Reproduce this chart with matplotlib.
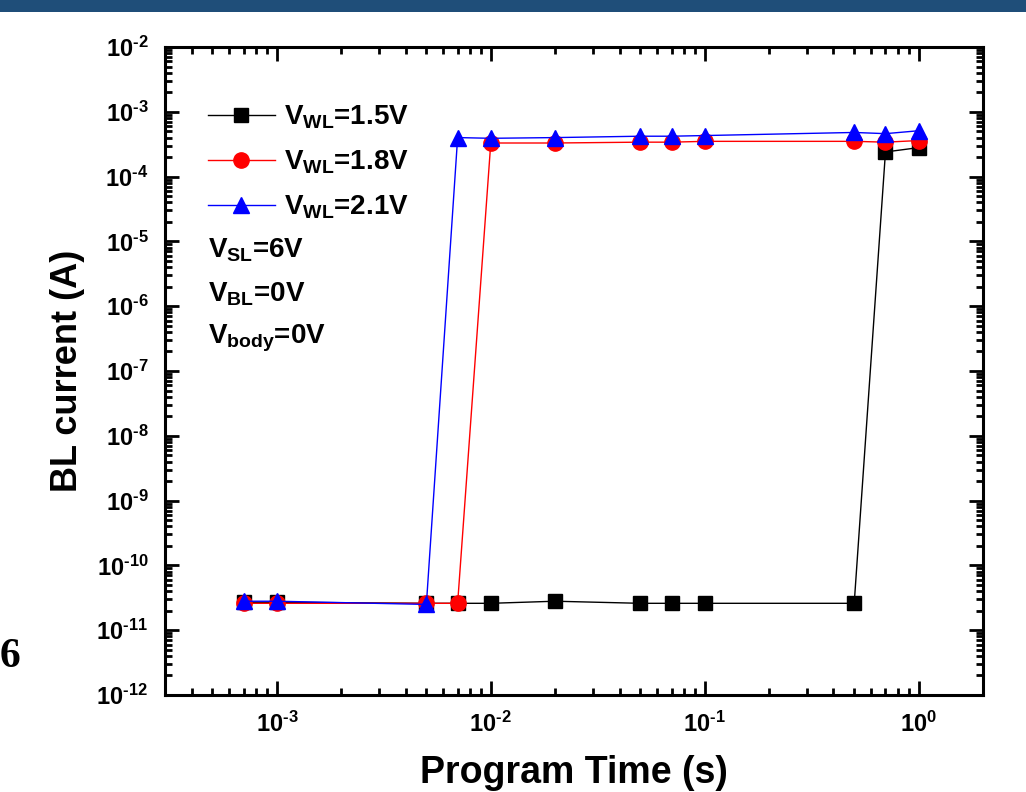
import matplotlib
matplotlib.use("Agg")
import matplotlib.pyplot as plt
from matplotlib.patches import Rectangle
from matplotlib.ticker import LogLocator, FuncFormatter, NullFormatter
import numpy as np

plt.rcParams['font.family'] = ['Liberation Sans', 'DejaVu Sans']
plt.rcParams['font.weight'] = 'bold'
plt.rcParams['mathtext.fontset'] = 'custom'
plt.rcParams['mathtext.rm'] = 'Liberation Sans:bold'
plt.rcParams['mathtext.bf'] = 'Liberation Sans:bold'
plt.rcParams['mathtext.it'] = 'Liberation Sans:bold'
plt.rcParams['mathtext.default'] = 'rm'

# ---- data ----
time_15 = [7e-4, 1e-3, 5e-3, 7e-3, 1e-2, 2e-2, 5e-2, 7e-2, 1e-1, 5e-1, 7e-1, 1.0]
curr_15 = [2.7e-11, 2.7e-11, 2.6e-11, 2.6e-11, 2.6e-11, 2.8e-11, 2.6e-11, 2.6e-11, 2.6e-11, 2.6e-11, 2.4e-4, 2.8e-4]

time_18 = [7e-4, 1e-3, 5e-3, 7e-3, 1e-2, 2e-2, 5e-2, 7e-2, 1e-1, 5e-1, 7e-1, 1.0]
curr_18 = [2.6e-11, 2.6e-11, 2.6e-11, 2.6e-11, 3.3e-4, 3.3e-4, 3.4e-4, 3.4e-4, 3.5e-4, 3.5e-4, 3.4e-4, 3.6e-4]

time_21 = [7e-4, 1e-3, 5e-3, 7e-3, 1e-2, 2e-2, 5e-2, 7e-2, 1e-1, 5e-1, 7e-1, 1.0]
curr_21 = [2.8e-11, 2.8e-11, 2.5e-11, 4.0e-4, 3.9e-4, 4.0e-4, 4.2e-4, 4.2e-4, 4.3e-4, 4.8e-4, 4.6e-4, 5.1e-4]

series_labels = [r'V$_{\mathregular{WL}}$=1.5V', r'V$_{\mathregular{WL}}$=1.8V', r'V$_{\mathregular{WL}}$=2.1V']
bias_labels = [r'V$_{\mathregular{SL}}$=6V', r'V$_{\mathregular{BL}}$=0V', r'V$_{\mathregular{body}}$=0V']
x_title = 'Program Time (s)'
y_title = 'BL current (A)'

W, H = 1026, 792
fig = plt.figure(figsize=(W / 100, H / 100), dpi=100)
fig.patch.set_facecolor('white')

# slide header bar
fig.patches.append(Rectangle((0, 1 - 12 / H), 1, 12 / H, transform=fig.transFigure,
                             facecolor='#1f4e79', edgecolor='none', zorder=0))
fig.text(0.0, 1 - 657 / H, '6', family='Liberation Serif', weight='bold',
         fontsize=30, va='center', ha='left')

ax = fig.add_axes([165 / W, 1 - 695 / H, (983 - 165) / W, (695 - 47) / H])

ax.plot(time_15, curr_15, color='black', lw=1.0, marker='s', ms=10, label=series_labels[0], zorder=3)
ax.plot(time_18, curr_18, color='red', lw=1.0, marker='o', ms=11, label=series_labels[1], zorder=4)
ax.plot(time_21, curr_21, color='blue', lw=1.0, marker='^', ms=12, label=series_labels[2], zorder=5)

ax.set_xscale('log')
ax.set_yscale('log')
ax.set_xlim(3e-4, 2.0)
ax.set_ylim(1e-12, 1e-2)

ax.xaxis.set_major_locator(LogLocator(base=10, numticks=20))
ax.xaxis.set_minor_locator(LogLocator(base=10, subs=np.arange(2, 10), numticks=50))
ax.yaxis.set_major_locator(LogLocator(base=10, numticks=20))
ax.yaxis.set_minor_locator(LogLocator(base=10, subs=np.arange(2, 10), numticks=50))

def fmt(v, pos):
    e = int(round(np.log10(v)))
    s = str(e).replace('-', '\u2010')
    return r'$\mathregular{10^{%s}}$' % s

ax.xaxis.set_major_formatter(FuncFormatter(fmt))
ax.yaxis.set_major_formatter(FuncFormatter(fmt))
ax.xaxis.set_minor_formatter(NullFormatter())
ax.yaxis.set_minor_formatter(NullFormatter())

ax.tick_params(which='both', direction='in', top=True, right=True, width=2)
ax.tick_params(which='major', length=10, labelsize=17)
ax.tick_params(axis='x', which='major', pad=12)
ax.tick_params(axis='y', which='major', pad=12)
ax.tick_params(which='minor', length=5)
for s in ax.spines.values():
    s.set_linewidth(2.2)

ax.set_xlabel(x_title, fontsize=27, weight='bold', labelpad=13)
ax.set_ylabel(y_title, fontsize=26, weight='bold', labelpad=8)

leg = ax.legend(loc='upper left', bbox_to_anchor=((208 - 165) / (983 - 165), 1 - (104 - 47) / (695 - 47)),
                frameon=False, fontsize=20, handlelength=2.4, handletextpad=0.35,
                labelspacing=0.62, borderaxespad=0, borderpad=0)

for i, t in enumerate(bias_labels):
    y = 250 + i * 44
    ax.text((208 - 165) / (983 - 165), 1 - (y - 47) / (695 - 47), t, transform=ax.transAxes,
            fontsize=20, weight='bold', va='center', ha='left')

fig.savefig('out.png', dpi=100)
